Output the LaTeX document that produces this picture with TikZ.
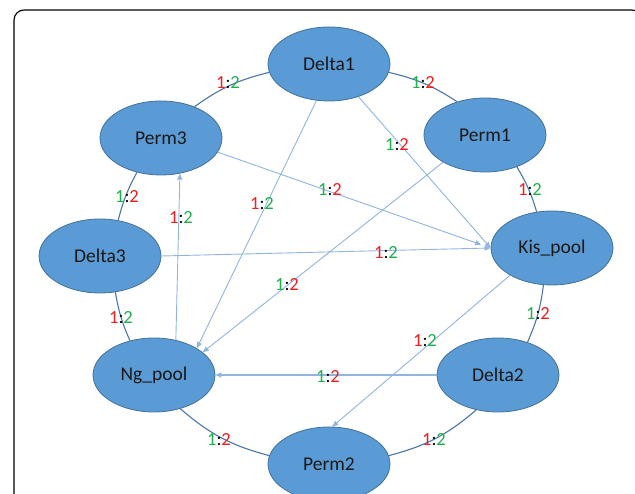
\documentclass[tikz,border=0pt]{standalone}
\usepackage{fontspec}
\setmainfont{Carlito}
\usetikzlibrary{shapes.geometric,arrows.meta}
\definecolor{nodefill}{HTML}{5B9BD5}
\definecolor{nodeline}{HTML}{41719C}
\definecolor{arcline}{HTML}{4A76A8}
\definecolor{arrowline}{HTML}{8FB5E0}
\definecolor{lblred}{HTML}{F01E1E}
\definecolor{lblgreen}{HTML}{1DB04B}
\newcommand{\lblRG}{{\color{lblred}1}:{\color{lblgreen}2}}
\newcommand{\lblGR}{{\color{lblgreen}1}:{\color{lblred}2}}
\begin{document}
\begin{tikzpicture}[x=1pt,y=1pt,
  pool/.style={ellipse,draw=nodeline,line width=0.8pt,fill=nodefill,
    minimum width=122pt,minimum height=74pt,inner sep=0pt,
    font=\fontsize{19.5}{22}\selectfont,text=black!90},
  ring/.style={draw=arcline,line width=1.1pt},
  flow/.style={draw=arrowline,line width=0.9pt,-{Triangle[length=6pt,width=5pt]}},
  ratio/.style={font=\fontsize{18.5}{20}\selectfont,inner sep=0pt}]
\useasboundingbox (0,0) rectangle (635,494);
\begin{scope}
\clip (0,0) rectangle (635,494);
\draw[line width=1.1pt,rounded corners=10pt] (14,-20) rectangle (642,484);

\node[pool] (Delta1) at (329,430) {Delta1};
\node[pool] (Perm1) at (485,359) {Perm1};
\node[pool] (Kis) at (552,246) {Kis\_pool};
\node[pool] (Delta2) at (498,119) {Delta2};
\node[pool] (Perm2) at (329,30) {Perm2};
\node[pool] (Ng) at (154,119) {Ng\_pool};
\node[pool] (Delta3) at (100,238) {Delta3};
\node[pool] (Perm3) at (161,356) {Perm3};

% ring connectors
\draw[ring] (Delta1.-8) to[bend left=10] (Perm1.130);
\draw[ring] (Perm1.-45) to[bend left=7] (Kis.113);
\draw[ring] (Kis.-103) to[bend left=8] (Delta2.48);
\draw[ring] (Delta2.-122) to[bend left=13] (Perm2.8);
\draw[ring] (Perm2.172) to[bend left=13] (Ng.-52);
\draw[ring] (Ng.125) to[bend left=7] (Delta3.-67);
\draw[ring] (Delta3.63) to[bend left=7] (Perm3.-125);
\draw[ring] (Perm3.43) to[bend left=11] (Delta1.188);

% flow arrows
\draw[flow] (Delta1.-109) -- (Ng.32);
\draw[flow] (Perm1.213) -- (Ng.25);
\draw[flow] (Delta1.-48) -- (Kis.180);
\draw[flow,shorten >=10pt] (Perm3.-14) -- (Kis.180);
\draw[flow] (Delta3.east) -- (Kis.west);
\draw[flow] (Ng.58) -- (Perm3.-62);
\draw[flow,line width=1.4pt] (Delta2.west) -- (Ng.east);
\draw[flow] (Kis.213) -- (Perm2.85);

% ring labels
\node[ratio] (l1) at (228,411) {\lblRG};
\node[ratio] (l2) at (423,411) {\lblGR};
\node[ratio] (l3) at (530,304) {\lblRG};
\node[ratio] (l4) at (538,180) {\lblGR};
\node[ratio] (l5) at (434,54) {\lblRG};
\node[ratio] (l6) at (219,54) {\lblGR};
\node[ratio] (l7) at (121,176) {\lblRG};
\node[ratio] (l8) at (127,297) {\lblGR};
% arrow labels
\node[ratio] (a1) at (181,276) {\lblRG};
\node[ratio] (a2) at (262,290) {\lblRG};
\node[ratio] (a3) at (287,209) {\lblGR};
\node[ratio] (a4) at (397,349) {\lblGR};
\node[ratio] (a5) at (330,304) {\lblGR};
\node[ratio] (a6) at (386,241) {\lblRG};
\node[ratio] (a7) at (328,117) {\lblGR};
\node[ratio] (a8) at (425,153) {\lblRG};
\end{scope}
\end{tikzpicture}
\end{document}
